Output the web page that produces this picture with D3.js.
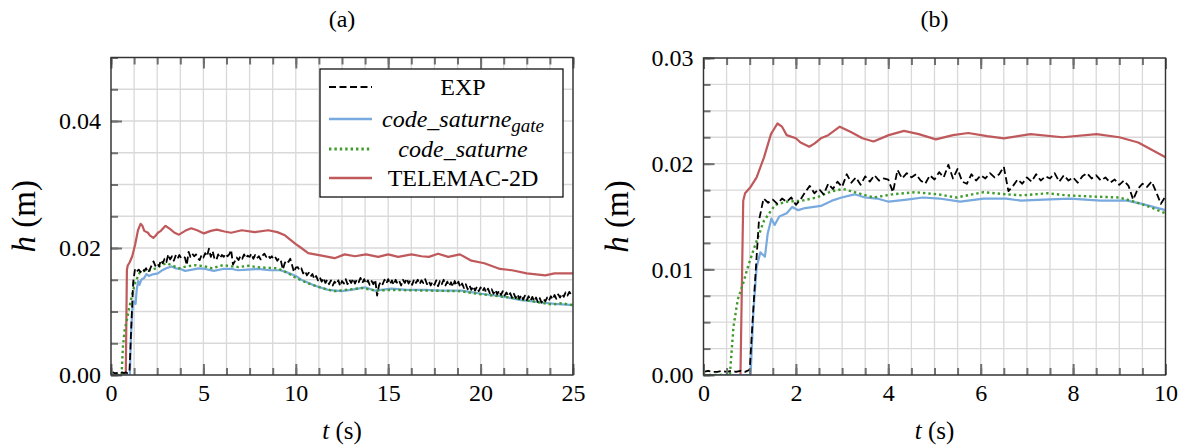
<!DOCTYPE html>
<html>
<head>
<meta charset="utf-8">
<script src="https://cdn.jsdelivr.net/npm/d3@7"></script>
<style>
  html, body { margin: 0; padding: 0; background: #fff; }
</style>
</head>
<body>
<svg id="fig" width="1183" height="446"></svg>
<script>
// ---- measured water depth h (m) versus time t (s) ----

// Experiment: 0.1 s sampling over 0–25 s
const expStep = 0.1;
const expH = [
  // 0.0 – 10.0 s
  0.0003, 0.0004, 0.0003, 0.0003, 0.0004, 0.0003, 0.0004, 0.0003, 0.0004, 0.0003,
  0.0005, 0.0078, 0.0146, 0.0167, 0.0163, 0.0166, 0.0162, 0.0167, 0.0164, 0.0168,
  0.0161, 0.0166, 0.0173, 0.0179, 0.0172, 0.0176, 0.0171, 0.0181, 0.0176, 0.0183,
  0.0178, 0.0190, 0.0182, 0.0187, 0.0180, 0.0188, 0.0183, 0.0189, 0.0184, 0.0186,
  0.0185, 0.0173, 0.0194, 0.0186, 0.0191, 0.0187, 0.0190, 0.0184, 0.0181, 0.0189,
  0.0185, 0.0192, 0.0187, 0.0199, 0.0186, 0.0195, 0.0183, 0.0181, 0.0190, 0.0184,
  0.0189, 0.0186, 0.0191, 0.0187, 0.0190, 0.0197, 0.0174, 0.0179, 0.0185, 0.0181,
  0.0187, 0.0183, 0.0190, 0.0184, 0.0188, 0.0186, 0.0191, 0.0183, 0.0189, 0.0184,
  0.0187, 0.0182, 0.0188, 0.0191, 0.0186, 0.0189, 0.0184, 0.0187, 0.0182, 0.0185,
  0.0180, 0.0184, 0.0179, 0.0166, 0.0176, 0.0181, 0.0178, 0.0183, 0.0173, 0.0162,
  0.0169,
  // 10.1 – 25.0 s
  0.0170, 0.0165, 0.0168, 0.0160, 0.0164, 0.0157, 0.0161, 0.0155, 0.0159, 0.0151,
  0.0156, 0.0149, 0.0154, 0.0147, 0.0153, 0.0145, 0.0150, 0.0143, 0.0149, 0.0141,
  0.0147, 0.0143, 0.0149, 0.0140, 0.0148, 0.0144, 0.0151, 0.0143, 0.0150, 0.0145,
  0.0152, 0.0144, 0.0150, 0.0146, 0.0153, 0.0145, 0.0151, 0.0144, 0.0149, 0.0142,
  0.0148, 0.0143, 0.0150, 0.0125, 0.0141, 0.0147, 0.0143, 0.0150, 0.0144, 0.0151,
  0.0143, 0.0149, 0.0142, 0.0150, 0.0144, 0.0148, 0.0141, 0.0150, 0.0145, 0.0152,
  0.0144, 0.0149, 0.0142, 0.0151, 0.0145, 0.0150, 0.0143, 0.0149, 0.0145, 0.0151,
  0.0143, 0.0148, 0.0141, 0.0147, 0.0142, 0.0149, 0.0140, 0.0148, 0.0143, 0.0150,
  0.0141, 0.0147, 0.0140, 0.0146, 0.0139, 0.0148, 0.0141, 0.0147, 0.0138, 0.0144,
  0.0137, 0.0143, 0.0135, 0.0141, 0.0134, 0.0140, 0.0133, 0.0139, 0.0132, 0.0138,
  0.0132, 0.0137, 0.0130, 0.0136, 0.0129, 0.0135, 0.0128, 0.0134, 0.0127, 0.0133,
  0.0126, 0.0132, 0.0125, 0.0130, 0.0124, 0.0129, 0.0122, 0.0128, 0.0121, 0.0127,
  0.0120, 0.0126, 0.0119, 0.0125, 0.0118, 0.0124, 0.0117, 0.0123, 0.0116, 0.0122,
  0.0115, 0.0121, 0.0114, 0.0120, 0.0116, 0.0122, 0.0117, 0.0124, 0.0119, 0.0126,
  0.0120, 0.0127, 0.0122, 0.0128, 0.0123, 0.0130, 0.0125, 0.0131, 0.0126, 0.0129
];

// code_saturne with gate: [t, h]
const saturneGate = [
  [0, 0], [1.02, 0], [1.08, 0.0060], [1.15, 0.0102], [1.23, 0.0116], [1.33, 0.0112],
  [1.39, 0.0134], [1.47, 0.0148], [1.54, 0.0142], [1.64, 0.0150], [1.8, 0.0153],
  [1.92, 0.0159], [2.05, 0.0156], [2.2, 0.0158], [2.54, 0.0160], [2.78, 0.0165],
  [2.99, 0.0168], [3.27, 0.0171], [3.5, 0.0168], [3.76, 0.0167], [4.01, 0.0164],
  [4.4, 0.0166], [4.75, 0.0168], [5.1, 0.0167], [5.56, 0.0164], [6.06, 0.0167],
  [6.55, 0.0167], [6.87, 0.0165], [7.36, 0.0166], [7.94, 0.0167], [8.59, 0.0165],
  [9.17, 0.0165], [9.49, 0.0162], [10.0, 0.0156], [10.3, 0.0150], [11.0, 0.0141],
  [11.75, 0.0134], [12.47, 0.0132], [13.0, 0.0134], [13.74, 0.0138], [14.28, 0.0133],
  [15.18, 0.0136], [16.0, 0.0134], [17.0, 0.0134], [17.9, 0.0133], [18.97, 0.0133],
  [20.05, 0.0128], [21.1, 0.0124], [22.2, 0.0118], [23.1, 0.0115], [24.0, 0.0112],
  [25.0, 0.0110]
];

// code_saturne: [t, h]
const saturne = [
  [0, 0], [0.57, 0], [0.65, 0.0046], [0.74, 0.0071], [0.86, 0.0087], [0.98, 0.0105],
  [1.15, 0.0127], [1.31, 0.0146], [1.55, 0.0161], [1.8, 0.0164], [2.13, 0.0165],
  [2.45, 0.0168], [2.78, 0.0174], [3.03, 0.0176], [3.27, 0.0173], [3.68, 0.0168],
  [4.09, 0.0171], [4.58, 0.0173], [5.07, 0.0171], [5.48, 0.0168], [6.06, 0.0173],
  [6.55, 0.0171], [6.9, 0.0170], [7.45, 0.0172], [7.86, 0.0170], [8.35, 0.0169],
  [9.0, 0.0168], [9.33, 0.0164], [9.66, 0.0159], [10.0, 0.0153], [10.6, 0.0145],
  [11.4, 0.0137], [12.1, 0.0132], [12.7, 0.0134], [13.56, 0.0137], [14.3, 0.0133],
  [15.2, 0.0134], [17.0, 0.0133], [18.9, 0.0132], [19.8, 0.0128], [21.6, 0.0122],
  [23.0, 0.0115], [23.85, 0.0111], [24.4, 0.0113], [25.0, 0.0110]
];

// TELEMAC-2D: [t, h]
const telemac = [
  [0, 0], [0.8, 0], [0.86, 0.0165], [0.9, 0.0172], [1.02, 0.0178], [1.15, 0.0187],
  [1.31, 0.0206], [1.46, 0.0228], [1.6, 0.0238], [1.7, 0.0235], [1.8, 0.0227],
  [2.0, 0.0224], [2.1, 0.0220], [2.29, 0.0216], [2.4, 0.0219], [2.54, 0.0224],
  [2.7, 0.0227], [2.95, 0.0235], [3.19, 0.0230], [3.44, 0.0224], [3.68, 0.0221],
  [4.01, 0.0227], [4.34, 0.0231], [4.66, 0.0228], [5.03, 0.0223], [5.4, 0.0227],
  [5.73, 0.0229], [6.14, 0.0226], [6.5, 0.0224], [7.08, 0.0228], [7.77, 0.0225],
  [8.51, 0.0228], [9.0, 0.0225], [9.41, 0.0220], [10.0, 0.0206], [10.3, 0.0200],
  [10.67, 0.0192], [11.4, 0.0188], [12.1, 0.0184], [12.65, 0.0190], [13.2, 0.0187],
  [13.8, 0.0190], [14.46, 0.0186], [15.0, 0.0190], [15.54, 0.0186], [16.26, 0.0190],
  [16.8, 0.0187], [17.2, 0.0186], [17.7, 0.0191], [18.25, 0.0186], [18.88, 0.0190],
  [19.5, 0.0180], [20.2, 0.0176], [21.05, 0.0167], [21.7, 0.0165], [22.5, 0.0160],
  [23.5, 0.0157], [24.0, 0.0160], [25.0, 0.0160]
];

// axis ticks
const xMajorA = [0, 5, 10, 15, 20, 25];
const yMajorA = [0, 0.02, 0.04];
const xMajorB = [0, 2, 4, 6, 8, 10];
const yMajorB = [0, 0.01, 0.02, 0.03];

const legendLabels = ["EXP", "code_saturne|gate", "code_saturne", "TELEMAC-2D"];

const FONT = "'Liberation Serif', 'Times New Roman', Times, serif";

// experiment samples as [t, h]
const experiment = expH.map((h, i) => [i * expStep, h]);

const series = [
  { data: telemac,     color: "#c0595b", width: 2.2, dash: null },
  { data: saturneGate, color: "#78a9df", width: 2.2, dash: null },
  { data: saturne,     color: "#3f9c2c", width: 2.4, dash: "2.4,3" },
  { data: experiment,  color: "#000000", width: 1.8, dash: "7,3.5" }
];

const svg = d3.select("#fig");

function drawPanel(cfg) {
  const w = cfg.right - cfg.left, h = cfg.bottom - cfg.top;
  const g = svg.append("g").attr("transform", `translate(${cfg.left},${cfg.top})`);
  const x = d3.scaleLinear().domain([0, cfg.xMax]).range([0, w]);
  const y = d3.scaleLinear().domain([0, cfg.yMax]).range([h, 0]);
  const xMinor = d3.range(0, cfg.xMax + 1e-9, cfg.xMinorStep);
  const yMinor = d3.range(0, cfg.yMax + 1e-9, cfg.yMinorStep);

  // grid
  g.append("g").selectAll("line").data(xMinor).join("line")
    .attr("x1", d => x(d)).attr("x2", d => x(d)).attr("y1", 0).attr("y2", h)
    .attr("stroke", "#d9d9d9").attr("stroke-width", 1.3);
  g.append("g").selectAll("line").data(yMinor).join("line")
    .attr("y1", d => y(d)).attr("y2", d => y(d)).attr("x1", 0).attr("x2", w)
    .attr("stroke", "#d9d9d9").attr("stroke-width", 1.3);

  // curves
  const clipId = "clip-" + cfg.id;
  g.append("clipPath").attr("id", clipId).append("rect")
    .attr("x", 0).attr("y", -2).attr("width", w).attr("height", h + 2);
  const line = d3.line().x(d => x(d[0])).y(d => y(d[1]));
  const curves = g.append("g").attr("clip-path", `url(#${clipId})`);
  series.forEach(s => {
    curves.append("path").datum(s.data)
      .attr("d", line).attr("fill", "none")
      .attr("stroke", s.color).attr("stroke-width", s.width)
      .attr("stroke-linejoin", "round")
      .attr("stroke-dasharray", s.dash);
  });

  // ticks (pointing inward)
  const styleTicks = sel => {
    sel.attr("font-family", FONT);
    sel.select(".domain").remove();
    sel.selectAll(".tick line").attr("stroke", "#707070").attr("stroke-width", 2);
    sel.selectAll(".tick text").attr("font-size", 24).attr("fill", "#000")
      .style("font-family", FONT);
  };
  g.append("g").attr("transform", `translate(0,${h})`)
    .call(d3.axisBottom(x).tickValues(xMinor).tickSize(-7).tickFormat("")).call(styleTicks);
  g.append("g").attr("transform", `translate(0,${h})`)
    .call(d3.axisBottom(x).tickValues(cfg.xMajor).tickSize(-11).tickPadding(9)
      .tickFormat(d3.format("d"))).call(styleTicks);
  g.append("g")
    .call(d3.axisTop(x).tickValues(xMinor).tickSize(-7).tickFormat("")).call(styleTicks);
  g.append("g")
    .call(d3.axisTop(x).tickValues(cfg.xMajor).tickSize(-11).tickFormat("")).call(styleTicks);
  g.append("g")
    .call(d3.axisLeft(y).tickValues(yMinor).tickSize(-7).tickFormat("")).call(styleTicks);
  g.append("g")
    .call(d3.axisLeft(y).tickValues(cfg.yMajor).tickSize(-11).tickPadding(10)
      .tickFormat(d3.format(".2f"))).call(styleTicks);

  // frame
  g.append("rect").attr("width", w).attr("height", h)
    .attr("fill", "none").attr("stroke", "#333").attr("stroke-width", 1.4);

  // title and axis labels
  g.append("text").attr("x", w / 2).attr("y", -31).attr("text-anchor", "middle")
    .style("font-family", FONT).attr("font-size", 24).text(cfg.title);
  const xl = g.append("text").attr("x", w / 2).attr("y", h + 64)
    .attr("text-anchor", "middle").style("font-family", FONT).attr("font-size", 25);
  xl.append("tspan").attr("font-style", "italic").text("t");
  xl.append("tspan").text("\u00a0(s)");
  const yl = g.append("text").attr("transform", `translate(-76,${h / 2}) rotate(-90)`)
    .attr("text-anchor", "middle").style("font-family", FONT).attr("font-size", 33);
  yl.append("tspan").attr("font-style", "italic").text("h");
  yl.append("tspan").text("\u00a0(m)");

  return { g, x, y, w, h };
}

drawPanel({ id: "a", left: 111, right: 573, top: 57.5, bottom: 375,
  xMax: 25, yMax: 0.05, xMinorStep: 1.25, yMinorStep: 0.005,
  xMajor: xMajorA, yMajor: yMajorA, title: "(a)" });
drawPanel({ id: "b", left: 703.5, right: 1165.5, top: 58, bottom: 375,
  xMax: 10, yMax: 0.03, xMinorStep: 0.5, yMinorStep: 0.0025,
  xMajor: xMajorB, yMajor: yMajorB, title: "(b)" });

// legend in panel (a)
const lg = svg.append("g").attr("transform", "translate(320,69)");
lg.append("rect").attr("width", 243).attr("height", 128)
  .attr("fill", "#fff").attr("stroke", "#000").attr("stroke-width", 1.2);
const legendOrder = [3, 1, 2, 0];
const rowY = [18, 50, 80, 109];
legendLabels.forEach((lab, i) => {
  const s = series[legendOrder[i]];
  lg.append("line").attr("x1", 9).attr("x2", 52).attr("y1", rowY[i]).attr("y2", rowY[i])
    .attr("stroke", s.color).attr("stroke-width", s.width + 0.4)
    .attr("stroke-dasharray", s.dash);
  const t = lg.append("text").attr("x", 143).attr("y", rowY[i] + 7.5)
    .attr("text-anchor", "middle").style("font-family", FONT).attr("font-size", 24);
  const parts = lab.split("|");
  if (i === 0 || i === 3) {
    t.text(parts[0]);
  } else {
    t.append("tspan").attr("font-style", "italic").text(parts[0]);
    if (parts[1]) {
      t.append("tspan").attr("font-style", "italic").attr("font-size", 19)
        .attr("dy", 5).text(parts[1]);
    }
  }
});
</script>
</body>
</html>
